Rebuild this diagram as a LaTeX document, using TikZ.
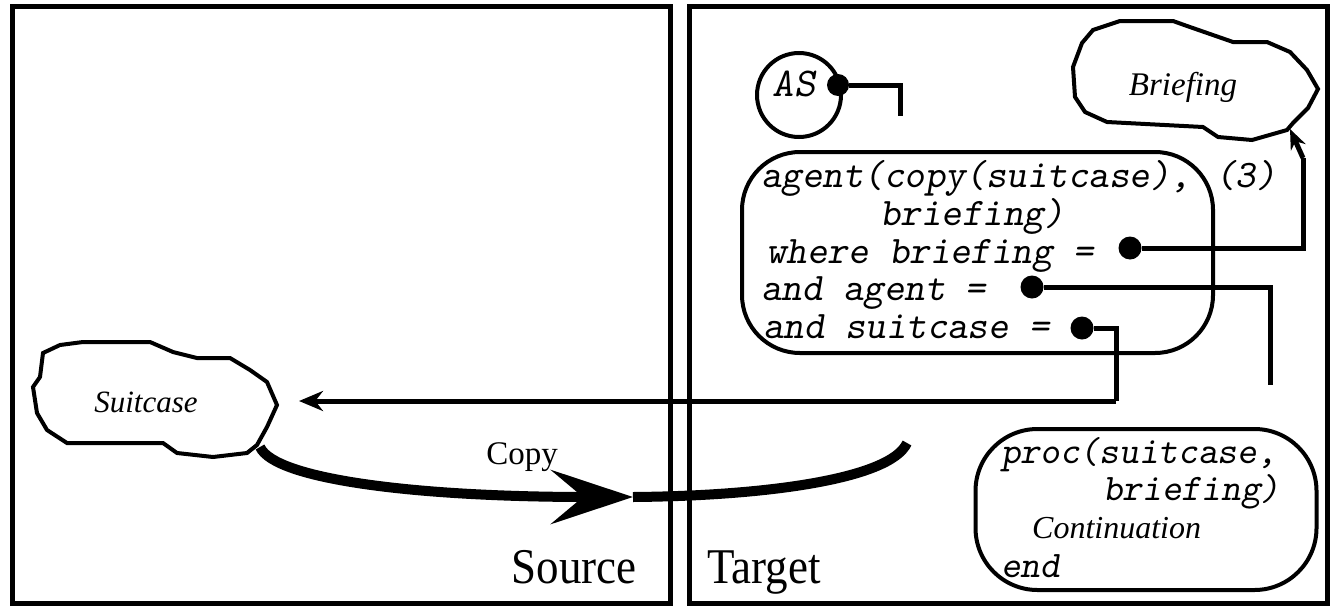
\documentclass[tikz,border=0pt]{standalone}
\usepackage{fontspec}
\setmainfont{Liberation Serif}
\usetikzlibrary{arrows.meta}
\begin{document}
\begin{tikzpicture}[x=1pt,y=-1pt,
  frame/.style={line width=5pt},
  cloudline/.style={line width=4pt},
  roundbox/.style={draw, line width=4pt, inner sep=0pt},
  dotn/.style={circle, fill=black, inner sep=0pt, minimum size=23pt},
  conn/.style={line width=5pt},
  codeA/.style={inner sep=0pt, anchor=base west, font=\ttfamily\slshape\fontsize{39}{44}\selectfont},
  codeB/.style={inner sep=0pt, anchor=base west, font=\ttfamily\slshape\fontsize{37.5}{44}\selectfont},
  lbl/.style={inner sep=0pt, font=\itshape\fontsize{32}{38}\selectfont},
  big/.style={inner sep=0pt, font=\fontsize{50}{60}\selectfont},
  copyline/.style={line width=10pt}
]
\useasboundingbox (0,0) rectangle (1332,608);

% frames
\draw[frame] (12,6) rectangle (670,603);
\draw[frame] (689,6) rectangle (1327,603);
\node[big, anchor=base east] (source) at (637,583) {\scalebox{0.9}[1]{Source}};
\node[big, anchor=base west] (target) at (707,583) {\scalebox{0.9}[1]{Target}};

% Suitcase cloud
\draw[cloudline] (43,353) -- (60,345) -- (83,342) -- (150,342) -- (173,352) -- (197,358) -- (230,358) -- (250,370) -- (267,382) -- (277,405) -- (267,427) -- (257,445) -- (247,453) -- (213,457) -- (177,453) -- (163,443) -- (67,443) -- (47,430) -- (37,413) -- (33,387) -- (40,377) -- cycle;
\node[lbl, font=\itshape\fontsize{31}{36}\selectfont] (suitcase) at (146,402) {Suitcase};
\coordinate (sc) at (260,447);

% Briefing cloud
\draw[cloudline] (1120,21) -- (1173,21) -- (1187,26) -- (1233,42) -- (1267,42) -- (1290,52) -- (1307,70) -- (1318,89) -- (1308,108) -- (1293,123) -- (1287,130) -- (1252,140) -- (1218,137) -- (1203,127) -- (1107,122) -- (1085,112) -- (1075,97) -- (1073,67) -- (1082,43) -- (1093,30) -- cycle;
\node[lbl, font=\itshape\fontsize{33}{38}\selectfont] (briefing) at (1183,87) {Briefing};
\coordinate (bTip) at (1290,129);

% AS
\node[draw, circle, line width=4pt, minimum size=84pt, inner sep=0pt] (as) at (799,95) {};
\node[inner sep=0pt, anchor=base, font=\ttfamily\slshape\fontsize{41}{44}\selectfont] (astext) at (794,96) {AS};
\node[dotn, minimum size=22pt] (dAS) at (838,85) {};
\coordinate (asEnd) at (900,116);
\draw[conn] (dAS) -| (asEnd);

% agent box
\node[roundbox, rounded corners=58pt, minimum width=471pt, minimum height=201pt] (agentbox) at (977.5,252.5) {};
\node[codeA] (l1) at (761,187) {agent(copy(suitcase),};
\node[codeA] (l2) at (880,225) {briefing)};
\node[codeA] (l3) at (766,263) {where briefing =};
\node[codeA] (l4) at (761,300) {and agent =};
\node[codeA] (l5) at (763,338) {and suitcase =};
\node[codeA] (three) at (1215,187) {(3)};

\node[dotn] (dBrief) at (1130,248) {};
\node[dotn] (dAgent) at (1032,287) {};
\node[dotn] (dSuit) at (1082,328) {};

\coordinate (bTurn) at (1303,158);
\draw[conn] (dBrief) -| (bTurn);
\draw[conn, -{Stealth[length=20pt,width=16pt]}] (bTurn) -- (bTip);

\coordinate (agEnd) at (1270,385);
\draw[conn] (dAgent) -| (agEnd);

\coordinate (sTurn) at (1116,401);
\coordinate (sEnd) at (299,401);
\draw[conn] (dSuit) -| (sTurn);
\draw[conn, -{Stealth[length=24pt,width=20pt]}] (sTurn) -- (sEnd);

% proc box
\node[roundbox, rounded corners=62pt, minimum width=341pt, minimum height=161pt] (procbox) at (1146,509.5) {};
\node[codeB] (p1) at (1001,463) {proc(suitcase,};
\node[codeB] (p2) at (1103,500) {briefing)};
\node[lbl, anchor=base west] (p3) at (1032,538) {Continuation};
\node[codeB] (p4) at (1001,577) {end};

% Copy arrow
\coordinate (ctip) at (633,497);
\coordinate (cEnd) at (907,443);
\draw[copyline, -{Stealth[length=82pt,width=54pt,inset=32pt]}] (sc) .. controls (275,480) and (420,497) .. (ctip);
\draw[copyline] (ctip) .. controls (760,496) and (890,480) .. (cEnd);
\node[inner sep=0pt, font=\fontsize{33}{38}\selectfont] (copy) at (522,457) {Copy};
\end{tikzpicture}
\end{document}
